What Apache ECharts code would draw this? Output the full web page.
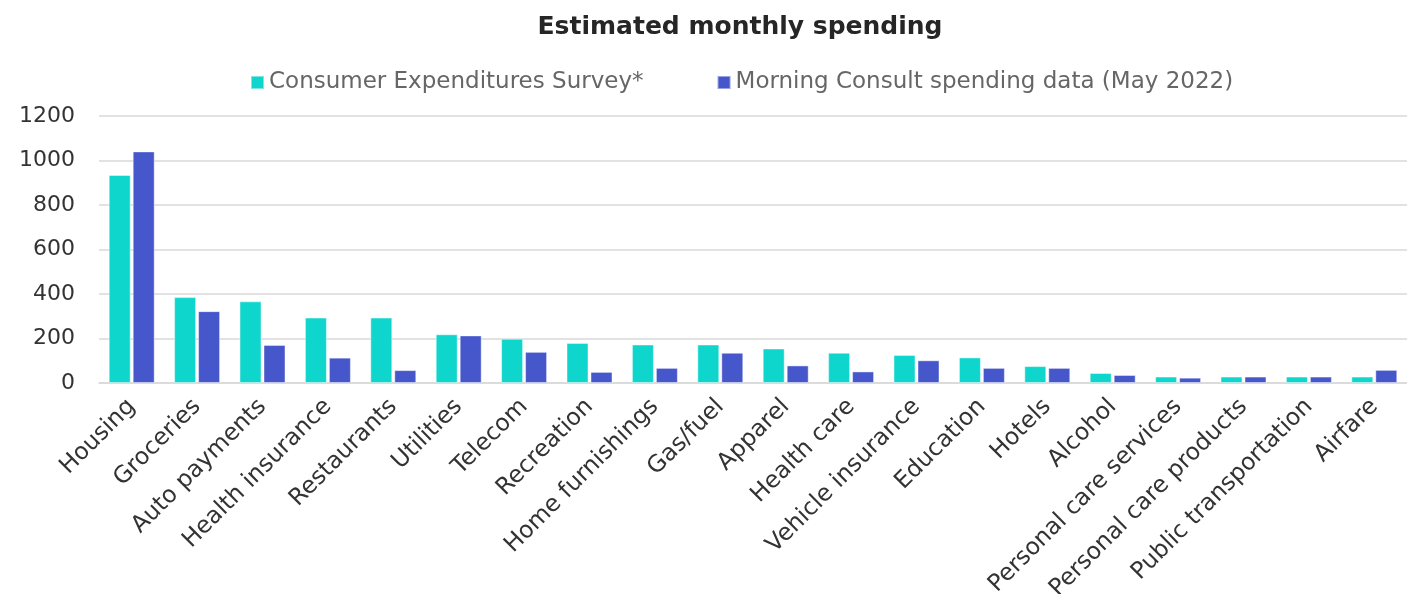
<!DOCTYPE html>
<html>
<head>
<meta charset="utf-8">
<script src="https://cdn.jsdelivr.net/npm/echarts@6/dist/echarts.min.js"></script>
<style>
  html, body { margin: 0; padding: 0; background: #fff; }
  #chart { width: 1407px; height: 594px; }
</style>
</head>
<body>
<div id="chart"></div>
<script>
const categories = [
  'Housing', 'Groceries', 'Auto payments', 'Health insurance', 'Restaurants',
  'Utilities', 'Telecom', 'Recreation', 'Home furnishings', 'Gas/fuel',
  'Apparel', 'Health care', 'Vehicle insurance', 'Education', 'Hotels',
  'Alcohol', 'Personal care services', 'Personal care products',
  'Public transportation', 'Airfare'
];
const surveyValues = [935, 386, 367, 294, 294, 219, 199, 180, 173, 173, 155, 136, 126, 115, 76, 45, 29, 29, 29, 29];
const morningConsultValues = [1041, 323, 171, 114, 58, 214, 140, 50, 68, 136, 79, 52, 102, 68, 68, 36, 24, 29, 29, 59];
const yTicks = [0, 200, 400, 600, 800, 1000, 1200];

const FONT = '"DejaVu Sans", sans-serif';
const chart = echarts.init(document.getElementById('chart'), null, { renderer: 'canvas' });

chart.setOption({
  backgroundColor: '#ffffff',
  animation: false,
  textStyle: { fontFamily: FONT },
  title: {
    text: 'Estimated monthly spending',
    left: 735,
    textAlign: 'center',
    top: 10,
    textStyle: { fontFamily: FONT, fontSize: 25, fontWeight: 'bold', color: '#262626' }
  },
  legend: {
    top: 66,
    left: 245,
    itemWidth: 13,
    itemHeight: 13,
    itemGap: 73,
    icon: 'rect',
    textStyle: { fontFamily: FONT, fontSize: 23, color: '#666666' },
    data: ['Consumer Expenditures Survey*', 'Morning Consult spending data (May 2022)']
  },
  grid: { left: 99, right: 0, top: 116, bottom: 211, containLabel: false, outerBoundsMode: 'none' },
  xAxis: {
    type: 'category',
    data: categories,
    axisTick: { show: false },
    axisLine: { lineStyle: { color: '#d9d9d9', width: 1.5 } },
    axisLabel: {
      interval: 0,
      rotate: 45,
      margin: 20,
      fontFamily: FONT,
      fontSize: 23.5,
      color: '#333333'
    }
  },
  yAxis: {
    type: 'value',
    min: yTicks[0],
    max: yTicks[yTicks.length - 1],
    interval: yTicks[1] - yTicks[0],
    axisLine: { show: false },
    axisTick: { show: false },
    splitLine: { lineStyle: { color: '#d9d9d9', width: 1.5 } },
    axisLabel: {
      margin: 24,
      fontFamily: FONT,
      fontSize: 22,
      color: '#333333',
      formatter: function (v) { return String(v); }
    }
  },
  series: [
    {
      name: 'Consumer Expenditures Survey*',
      type: 'bar',
      data: surveyValues,
      barWidth: 22,
      barGap: '9%',
      itemStyle: { color: '#0fd6cc', borderColor: 'rgba(255,255,255,0.45)', borderWidth: 1 }
    },
    {
      name: 'Morning Consult spending data (May 2022)',
      type: 'bar',
      data: morningConsultValues,
      barWidth: 22,
      barGap: '9%',
      itemStyle: { color: '#4657cc', borderColor: 'rgba(255,255,255,0.45)', borderWidth: 1 }
    }
  ]
});
</script>
</body>
</html>
